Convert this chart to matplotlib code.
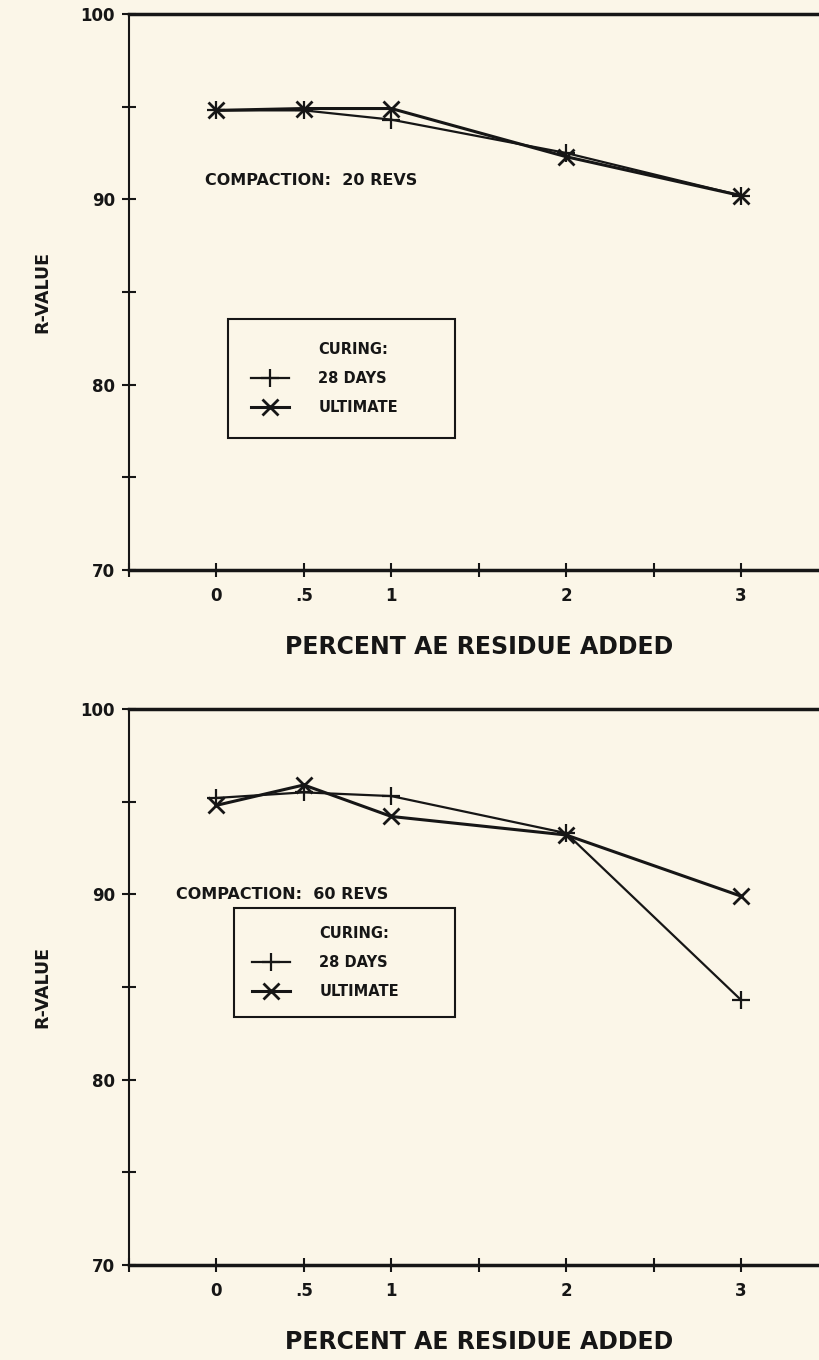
import numpy as np
import matplotlib.pyplot as plt
from matplotlib.lines import Line2D

# percent AE residue added
pct = [0, 0.5, 1, 2, 3]

# R-value, compaction 20 revs
days28_20 = [94.8, 94.8, 94.3, 92.5, 90.2]
ult_20 = [94.8, 94.9, 94.9, 92.3, 90.2]

# R-value, compaction 60 revs
days28_60 = [95.2, 95.5, 95.3, 93.3, 84.3]
ult_60 = [94.8, 95.9, 94.2, 93.2, 89.9]

xticks = [-0.5, 0, 0.5, 1, 1.5, 2, 2.5, 3, 3.5]
xticklabels = ['', '0', '.5', '1', '', '2', '', '3', '']
yticks = [70, 75, 80, 85, 90, 95, 100]
yticklabels = ['70', '', '80', '', '90', '', '100']

bg = '#fbf6e8'
ink = '#161616'

plt.rcParams['font.family'] = ['DejaVu Sans']
plt.rcParams['font.weight'] = 'bold'
plt.rcParams['axes.labelweight'] = 'bold'

fig = plt.figure(figsize=(8.19, 13.6), dpi=100, facecolor=bg)

panels = [
    # bottom pos, 28 days, ultimate, note, note pos, legend top-left, legend width, legend pad
    (0.5809, days28_20, ult_20, 'COMPACTION:  20 REVS', (-0.065, 91.0), (0.1416, 0.4514), 0.325, 1.6),
    (0.0699, days28_60, ult_60, 'COMPACTION:  60 REVS', (-0.23, 90.0), (0.150, 0.642), 0.316, 1.25),
]

for bottom, d28, ult, note, note_xy, leg_xy, leg_w, leg_pad in panels:
    ax = fig.add_axes([0.1575, bottom, 0.854, 0.4088])
    ax.set_facecolor(bg)

    l1, = ax.plot(pct, d28, color=ink, lw=1.6, marker='+', ms=13, mew=1.6)
    l2, = ax.plot(pct, ult, color=ink, lw=2.2, marker='x', ms=11, mew=2)

    ax.set_xlim(-0.5, 3.5)
    ax.set_ylim(70, 100)
    ax.set_xticks(xticks)
    ax.set_xticklabels(xticklabels)
    ax.set_yticks(yticks)
    ax.set_yticklabels(yticklabels)
    ax.tick_params(direction='inout', length=10, width=1.5, colors=ink, labelsize=12)
    ax.tick_params(axis='x', pad=7)
    ax.tick_params(axis='y', pad=5)

    ax.spines['right'].set_visible(False)
    ax.spines['top'].set_linewidth(2.5)
    ax.spines['bottom'].set_linewidth(2.5)
    ax.spines['left'].set_linewidth(1.5)
    for s in ax.spines.values():
        s.set_color(ink)

    ax.text(note_xy[0], note_xy[1], note, fontsize=11.5, color=ink, va='center', ha='left')

    ax.set_xlabel('PERCENT AE RESIDUE ADDED', fontsize=17, color=ink, va='center')
    ax.xaxis.set_label_coords(0.5, -0.138)
    ax.set_ylabel('R-VALUE', fontsize=12.5, color=ink, va='center')
    ax.yaxis.set_label_coords(-0.124, 0.5)

    head = Line2D([], [], linestyle='none')
    leg = ax.legend([head, l1, l2], ['CURING:', '28 DAYS', 'ULTIMATE'],
                    loc='upper left', bbox_to_anchor=(leg_xy[0], leg_xy[1] - 0.3, leg_w, 0.3),
                    mode='expand', borderaxespad=0, fancybox=False, framealpha=1,
                    facecolor=bg, edgecolor=ink, fontsize=10.5, numpoints=1,
                    handlelength=2.6, handletextpad=2.0, labelspacing=0.95, borderpad=leg_pad)
    leg.get_frame().set_linewidth(1.5)
    for t in leg.get_texts():
        t.set_color(ink)

fig.savefig('out.png', dpi=100, facecolor=bg)
